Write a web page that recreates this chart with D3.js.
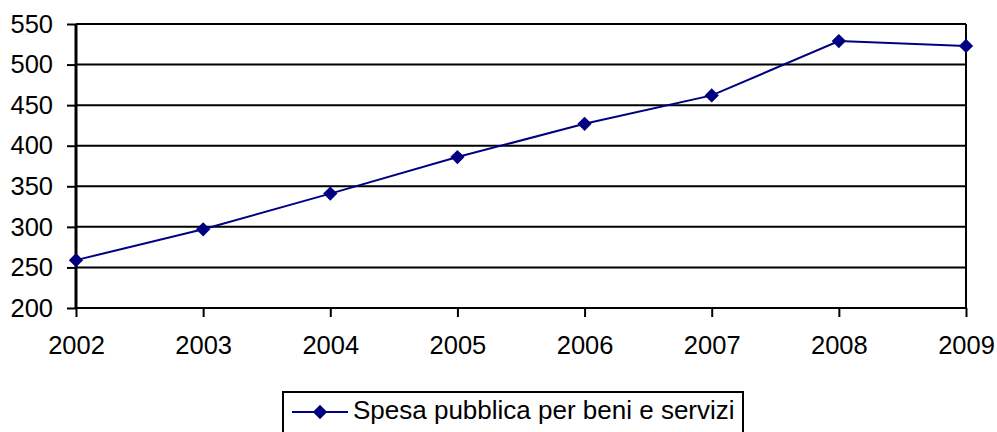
<!DOCTYPE html>
<html>
<head>
<meta charset="utf-8">
<script src="https://cdn.jsdelivr.net/npm/d3@7"></script>
<style>
body { margin: 0; background: #fff; }
text { font-family: "Liberation Sans", Arial, sans-serif; }
</style>
</head>
<body>
<script>
// data
var years = ['2002','2003','2004','2005','2006','2007','2008','2009'];
var spesa = [259, 297, 341, 386, 427, 462, 529, 523];
var yTicks = [200,250,300,350,400,450,500,550];
var seriesName = "Spesa pubblica per beni e servizi";

var width = 997, height = 432;
var margin = {left:76, right:31, top:24, bottom:124};
var w = width - margin.left - margin.right;
var h = height - margin.top - margin.bottom;

var svg = d3.select("body").append("svg")
    .attr("width", width)
    .attr("height", height);

var x = d3.scalePoint().domain(years).range([0, w]);
var y = d3.scaleLinear().domain([200, 550]).range([h, 0]);

var chart = svg.append("g")
    .attr("transform", "translate(" + margin.left + "," + margin.top + ")");

// gridlines
chart.selectAll(".grid").data(yTicks).enter().append("line")
    .attr("x1", 0).attr("x2", w)
    .attr("y1", function(d){ return y(d); })
    .attr("y2", function(d){ return y(d); })
    .attr("stroke", "#000").attr("stroke-width", 2);

// right border
chart.append("line")
    .attr("x1", w).attr("x2", w).attr("y1", 0).attr("y2", h)
    .attr("stroke", "#000").attr("stroke-width", 2);

// y axis
var yAxis = d3.axisLeft(y).tickValues(yTicks).tickSize(9).tickPadding(14);
var gy = chart.append("g").call(yAxis);
gy.attr("font-size", 25.5);
gy.select(".domain").attr("stroke-width", 3).attr("d", "M0," + h + "V0");
gy.selectAll(".tick line").attr("stroke-width", 2);
gy.selectAll("text").attr("fill", "#000");

// x axis
var xAxis = d3.axisBottom(x).tickSize(9).tickPadding(19);
var gx = chart.append("g").attr("transform", "translate(0," + h + ")").call(xAxis);
gx.attr("font-size", 25.5);
gx.select(".domain").remove();
gx.selectAll(".tick line").attr("stroke-width", 2);
gx.selectAll("text").attr("fill", "#000");

// line
var line = d3.line()
    .x(function(d,i){ return x(years[i]); })
    .y(function(d){ return y(d); });

chart.append("path")
    .attr("d", line(spesa))
    .attr("fill", "none")
    .attr("stroke", "#000080")
    .attr("stroke-width", 2);

var diamond = d3.symbol().type(d3.symbolDiamond2).size(130);
chart.selectAll(".pt").data(spesa).enter().append("path")
    .attr("d", diamond)
    .attr("transform", function(d,i){ return "translate(" + x(years[i]) + "," + y(d) + ")"; })
    .attr("fill", "#000080");

// legend
var legend = svg.append("g").attr("transform", "translate(283,392)");
legend.append("rect")
    .attr("x", 0).attr("y", 0).attr("width", 460).attr("height", 44)
    .attr("fill", "#fff").attr("stroke", "#000").attr("stroke-width", 2);
legend.append("line")
    .attr("x1", 9).attr("x2", 65).attr("y1", 20).attr("y2", 20)
    .attr("stroke", "#000080").attr("stroke-width", 2);
legend.append("path")
    .attr("d", diamond)
    .attr("transform", "translate(37,20)")
    .attr("fill", "#000080");
legend.append("text")
    .attr("x", 70).attr("y", 27)
    .attr("font-size", 26)
    .text(seriesName);
</script>
</body>
</html>
